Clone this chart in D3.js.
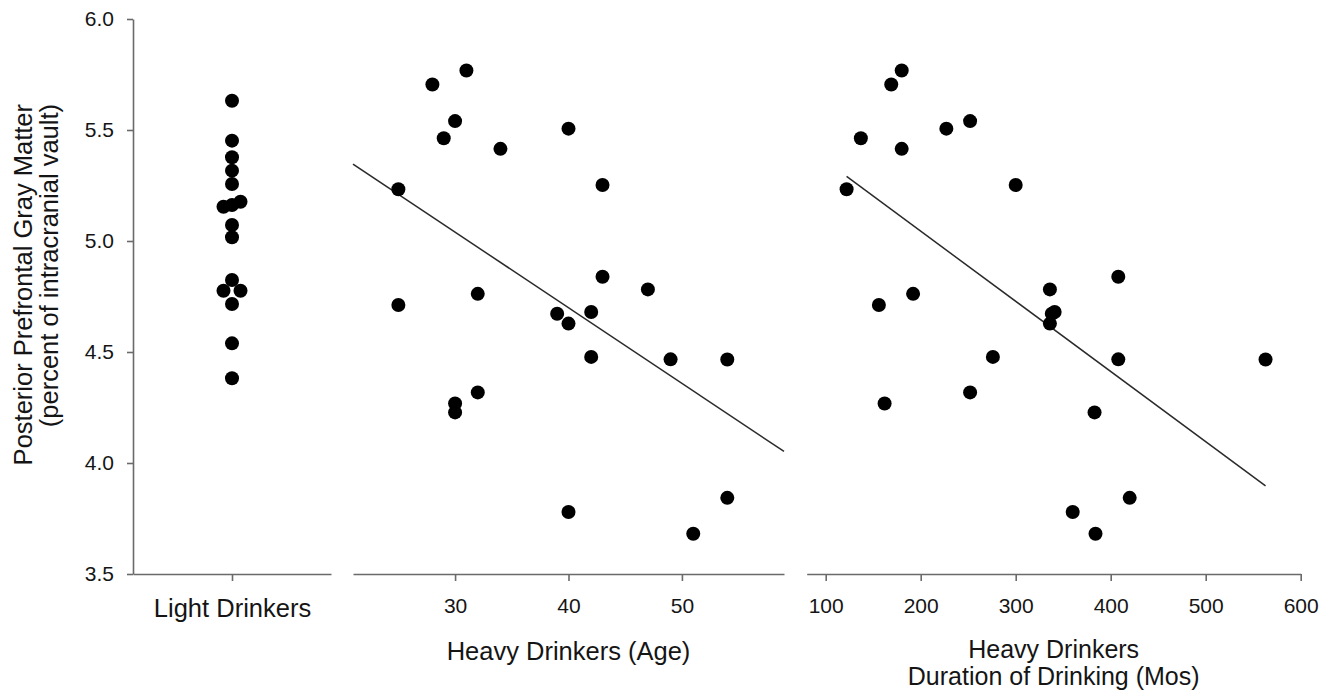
<!DOCTYPE html>
<html>
<head>
<meta charset="utf-8">
<script src="https://cdn.jsdelivr.net/npm/d3@7"></script>
<style>
  body { margin: 0; background: #fff; }
  svg text { font-family: "Liberation Sans", Arial, sans-serif; fill: #151515; }
</style>
</head>
<body>
<svg width="1337" height="698"></svg>
<script>
  // Data
  const lightCategory = ["Light Drinkers"];
  const lightGM = [5.632, 5.452, 5.377, 5.317, 5.257, 5.177, 5.162, 5.154,
                   5.072, 5.017, 4.824, 4.776, 4.776, 4.716, 4.539, 4.382];

  const heavyAge = [31, 28, 30, 29, 40, 34, 25, 43, 43, 47, 32, 25,
                    39, 42, 40, 42, 49, 54, 32, 30, 30, 40, 54, 51];
  const heavyAgeGM = [5.768, 5.705, 5.540, 5.463, 5.506, 5.415, 5.233, 5.252,
                      4.839, 4.782, 4.762, 4.712, 4.672, 4.680, 4.628, 4.478,
                      4.467, 4.466, 4.318, 4.268, 4.228, 3.779, 3.843, 3.681];

  const heavyDuration = [180, 169, 252, 227, 137, 180, 122, 300, 408, 336, 192, 156,
                         341, 338, 336, 276, 408, 563, 252, 162, 383, 360, 420, 384];
  const heavyDurationGM = [5.768, 5.705, 5.540, 5.506, 5.463, 5.415, 5.233, 5.252,
                           4.839, 4.782, 4.762, 4.712, 4.680, 4.672, 4.628, 4.478,
                           4.467, 4.466, 4.318, 4.268, 4.228, 3.779, 3.843, 3.681];

  const yTicks = [3.5, 4.0, 4.5, 5.0, 5.5, 6.0];
  const ageTicks = [30, 40, 50];
  const durationTicks = [100, 200, 300, 400, 500, 600];

  const svg = d3.select("svg");
  const axisColor = "#6a6a6a";
  const r = 7;

  // shared y scale
  const y = d3.scaleLinear().domain([3.5, 6.0]).range([574, 19]);

  // x scales, one per panel
  const xLight = d3.scalePoint().domain(lightCategory).range([133, 331]).padding(0.5);
  const xAge = d3.scaleLinear().domain([21, 59]).range([353, 784]);
  const xDur = d3.scaleLinear().domain([80, 600]).range([806.7, 1300.7]);

  function styleAxis(g, fontSize) {
    g.select(".domain").attr("stroke", axisColor).attr("stroke-width", 1.6);
    g.selectAll(".tick line").attr("stroke", axisColor).attr("stroke-width", 1.6);
    g.selectAll(".tick text")
      .attr("fill", "#151515")
      .style("font-size", fontSize + "px")
      .style("font-family", '"Liberation Sans", Arial, sans-serif');
  }

  // y axis
  svg.append("g")
      .attr("transform", "translate(133,0)")
      .call(d3.axisLeft(y).tickValues(yTicks).tickFormat(d3.format(".1f"))
          .tickSize(6).tickSizeOuter(0).tickPadding(13))
      .call(g => styleAxis(g, 21));

  // bottom axes
  svg.append("g")
      .attr("transform", "translate(0,574)")
      .call(d3.axisBottom(xLight).tickSize(7).tickSizeOuter(0).tickPadding(18))
      .call(g => styleAxis(g, 25.5));

  svg.append("g")
      .attr("transform", "translate(0,574)")
      .call(d3.axisBottom(xAge).tickValues(ageTicks).tickSize(7).tickSizeOuter(0).tickPadding(17))
      .call(g => styleAxis(g, 21));

  svg.append("g")
      .attr("transform", "translate(0,574)")
      .call(d3.axisBottom(xDur).tickValues(durationTicks).tickSize(7).tickSizeOuter(0).tickPadding(17))
      .call(g => styleAxis(g, 21));

  // axis titles
  const yTitle = svg.append("text")
      .attr("transform", "translate(0,104) rotate(-90)")
      .attr("text-anchor", "end")
      .style("font-size", "25.5px");
  yTitle.append("tspan").attr("x", 0).attr("y", 32).text("Posterior Prefrontal Gray Matter");
  yTitle.append("tspan").attr("x", 0).attr("y", 58).text("(percent of intracranial vault)");

  svg.append("text")
      .attr("x", (xAge.range()[0] + xAge.range()[1]) / 2)
      .attr("y", 660)
      .attr("text-anchor", "middle")
      .style("font-size", "25.5px")
      .text("Heavy Drinkers (Age)");

  const durTitle = svg.append("text")
      .attr("text-anchor", "middle")
      .style("font-size", "25px");
  const durMid = (xDur.range()[0] + xDur.range()[1]) / 2;
  durTitle.append("tspan").attr("x", durMid).attr("y", 658).text("Heavy Drinkers");
  durTitle.append("tspan").attr("x", durMid).attr("y", 685).text("Duration of Drinking (Mos)");

  // light drinkers: spread dots that sit on top of each other
  const lightPts = lightGM.map(v => ({ v: v, off: 0 }))
      .sort((a, b) => a.v - b.v);
  let groups = [];
  lightPts.forEach(p => {
    const last = groups[groups.length - 1];
    if (last && Math.abs(y(last[last.length - 1].v) - y(p.v)) < 8) last.push(p);
    else groups.push([p]);
  });
  groups.forEach(gr => {
    const n = gr.length;
    if (n > 1) gr.forEach((p, i) => { p.off = (i / (n - 1) * 2 - 1) * 8.5; });
  });

  svg.append("g")
    .selectAll("circle")
    .data(lightPts)
    .join("circle")
      .attr("cx", d => xLight(lightCategory[0]) + d.off)
      .attr("cy", d => y(d.v))
      .attr("r", r)
      .attr("fill", "#000");

  // least squares fit
  function fit(xs, ys) {
    const mx = d3.mean(xs), my = d3.mean(ys);
    let sxy = 0, sxx = 0;
    xs.forEach((xv, i) => { sxy += (xv - mx) * (ys[i] - my); sxx += (xv - mx) * (xv - mx); });
    const b = sxy / sxx;
    return { b: b, a: my - b * mx };
  }

  // age panel
  const fAge = fit(heavyAge, heavyAgeGM);
  const ageLine = xAge.domain();
  svg.append("line")
      .attr("x1", xAge(ageLine[0])).attr("y1", y(fAge.a + fAge.b * ageLine[0]))
      .attr("x2", xAge(ageLine[1])).attr("y2", y(fAge.a + fAge.b * ageLine[1]))
      .attr("stroke", "#2a2a2a")
      .attr("stroke-width", 1.5);

  svg.append("g")
    .selectAll("circle")
    .data(heavyAge)
    .join("circle")
      .attr("cx", d => xAge(d))
      .attr("cy", (d, i) => y(heavyAgeGM[i]))
      .attr("r", r)
      .attr("fill", "#000");

  // duration panel
  const fDur = fit(heavyDuration, heavyDurationGM);
  const durLine = d3.extent(heavyDuration);
  svg.append("line")
      .attr("x1", xDur(durLine[0])).attr("y1", y(fDur.a + fDur.b * durLine[0]))
      .attr("x2", xDur(durLine[1])).attr("y2", y(fDur.a + fDur.b * durLine[1]))
      .attr("stroke", "#2a2a2a")
      .attr("stroke-width", 1.5);

  svg.append("g")
    .selectAll("circle")
    .data(heavyDuration)
    .join("circle")
      .attr("cx", d => xDur(d))
      .attr("cy", (d, i) => y(heavyDurationGM[i]))
      .attr("r", r)
      .attr("fill", "#000");
</script>
</body>
</html>
